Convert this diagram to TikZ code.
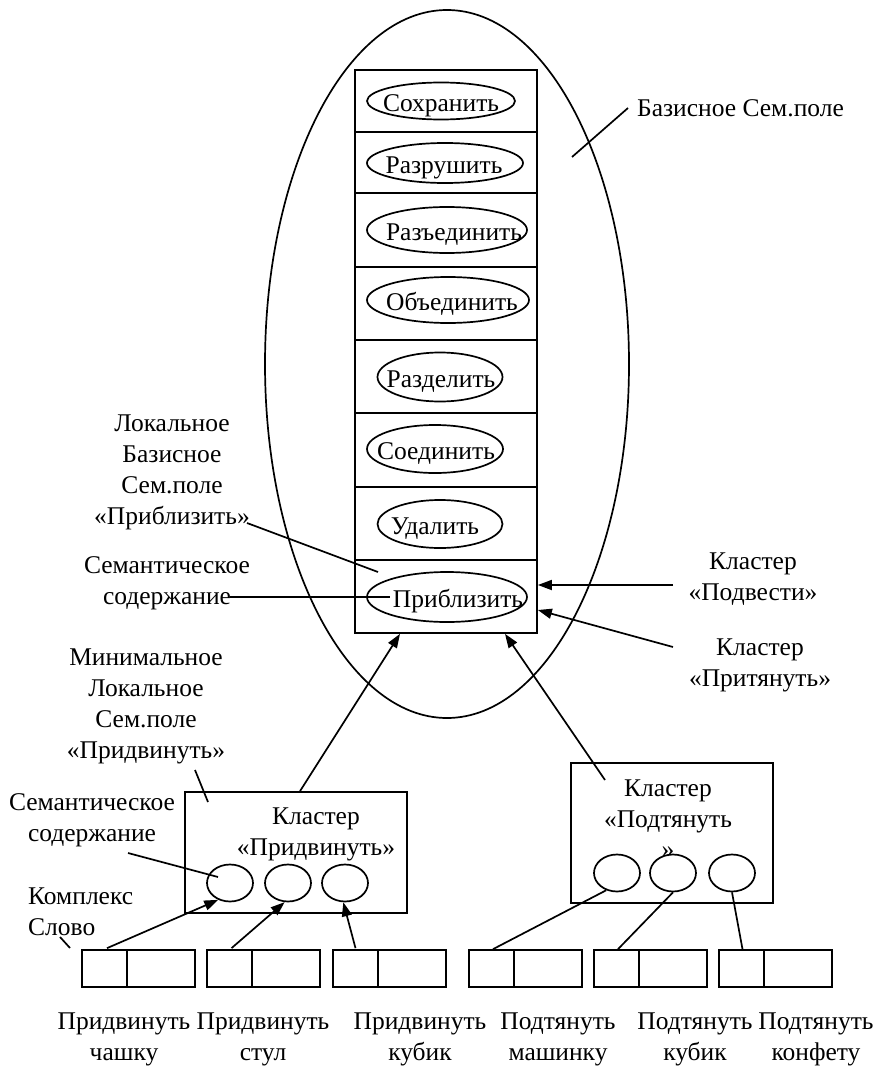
\documentclass[tikz,border=0pt]{standalone}
\usepackage{fontspec}
\setmainfont{Liberation Serif}
\usetikzlibrary{shapes.geometric,arrows.meta,calc}
\tikzset{
  lw/.style={line width=1.7pt},
  txt/.style={font=\fontsize{25.5}{31}\selectfont, inner sep=0pt, align=center},
  otxt/.style={txt, text height=21pt, text depth=0pt},
  rowbox/.style={draw, lw, rectangle, minimum width=182pt, inner sep=0pt},
  oval/.style={draw, lw, ellipse, inner sep=0pt},
  sm/.style={draw, lw, ellipse, inner sep=0pt, minimum width=46pt, minimum height=37pt},
  wsmall/.style={draw, lw, rectangle, inner sep=0pt, minimum width=45pt, minimum height=37pt},
  wbig/.style={draw, lw, rectangle, inner sep=0pt, minimum width=68pt, minimum height=37pt},
  conn/.style={lw},
  arr/.style={lw, -{Triangle[length=14pt,width=10pt]}}
}
\begin{document}
\begin{tikzpicture}[x=1pt,y=-1pt]
\useasboundingbox (0,0) rectangle (878,1070);
% big ellipse
\node[oval, minimum width=364pt, minimum height=708pt] (big) at (447,364) {};
% column rows
\node[rowbox, minimum height=62pt] (r1) at (446,101) {};
\node[rowbox, minimum height=61pt] (r2) at (446,162.5) {};
\node[rowbox, minimum height=74pt] (r3) at (446,230) {};
\node[rowbox, minimum height=73pt] (r4) at (446,303.5) {};
\node[rowbox, minimum height=73pt] (r5) at (446,376.5) {};
\node[rowbox, minimum height=74pt] (r6) at (446,450) {};
\node[rowbox, minimum height=73pt] (r7) at (446,523.5) {};
\node[rowbox, minimum height=73pt] (r8) at (446,596.5) {};
% ovals in rows
\node[oval, minimum width=148pt, minimum height=37pt] (e1) at (441,101) {};
\node[oval, minimum width=156pt, minimum height=40pt] (e2) at (445,163) {};
\node[oval, minimum width=160pt, minimum height=46pt] (e3) at (447,230) {};
\node[oval, minimum width=162pt, minimum height=46pt] (e4) at (448,300) {};
\node[oval, minimum width=125pt, minimum height=49pt] (e5) at (440,377) {};
\node[oval, minimum width=136pt, minimum height=48pt] (e6) at (435,449) {};
\node[oval, minimum width=125pt, minimum height=48pt] (e7) at (440,524) {};
\node[oval, minimum width=160pt, minimum height=50pt] (e8) at (447,597) {};
\node[otxt] (t1) at (441,101) {Сохранить};
\node[otxt] (t2) at (444,163) {Разрушить};
\node[otxt] (t3) at (454,230) {Разъединить};
\node[otxt] (t4) at (452,300) {Объединить};
\node[otxt] (t5) at (441,377) {Разделить};
\node[otxt] (t6) at (436,449) {Соединить};
\node[otxt] (t7) at (435,524) {Удалить};
\node[otxt] (t8) at (458,597) {Приблизить};
% labels
\node[txt, anchor=west] (bsp) at (637,108) {Базисное Сем.поле};
\node[txt] (lbsp) at (172,472) {Локальное\\Базисное\\Сем.поле\\«Приблизить»};
\node[txt] (sem1) at (167,583) {Семантическое\\содержание};
\node[txt] (mlsp) at (146,706) {Минимальное\\Локальное\\Сем.поле\\«Придвинуть»};
\node[txt] (sem2) at (92,820) {Семантическое\\содержание};
\node[txt, align=left, anchor=west] (ks) at (28,912) {Комплекс\\Слово};
\node[txt] (kpv) at (753,579) {Кластер\\«Подвести»};
\node[txt] (kpt) at (760,665) {Кластер\\«Притянуть»};
% cluster boxes
\node[draw, lw, rectangle, minimum width=222pt, minimum height=121pt, inner sep=0pt] (C1) at (296,852.5) {};
\node[txt] (C1t) at (316,834) {Кластер\\«Придвинуть»};
\node[draw, lw, rectangle, minimum width=202pt, minimum height=140pt, inner sep=0pt] (C2) at (672,833) {};
\node[txt] (C2t) at (668,806) {Кластер\\«Подтянуть};
\node[txt] (C2q) at (668,852) {»};
\node[sm] (a1) at (230,883) {};
\node[sm] (a2) at (288,883) {};
\node[sm] (a3) at (345,883) {};
\node[sm] (b1) at (617,873) {};
\node[sm] (b2) at (673,873) {};
\node[sm] (b3) at (732,873) {};
% word boxes
\foreach \n/\l in {1/82,2/207,3/333,4/469,5/594,6/719}{
  \node[wsmall] (w\n s) at (\l+22.5,968.5) {};
  \node[wbig] (w\n b) at (\l+79,968.5) {};
}
\node[txt] (n1) at (124,1039) {Придвинуть\\чашку};
\node[txt] (n2) at (263,1039) {Придвинуть\\стул};
\node[txt] (n3) at (420,1039) {Придвинуть\\кубик};
\node[txt] (n4) at (558,1039) {Подтянуть\\машинку};
\node[txt] (n5) at (695,1039) {Подтянуть\\кубик};
\node[txt] (n6) at (816,1039) {Подтянуть\\конфету};
% free-end coordinates
\coordinate (bspA) at (572,157);
\coordinate (bspB) at (628,108);
\coordinate (lbA) at (247,523);
\coordinate (lbB) at (378,572);
\coordinate (s1A) at (230,597);
\coordinate (s1B) at (390,597);
\coordinate (mlA) at (195,770);
\coordinate (mlB) at (208,802);
\coordinate (s2A) at (128,853);
\coordinate (s2B) at (218,877);
\coordinate (ksA) at (60,937);
\coordinate (ksB) at (70,948);
\coordinate (pv) at (673,585);
\coordinate (pt) at (673,647);
\coordinate (c2s) at (605,780);
% connectors
\draw[conn] (bspA) -- (bspB);
\draw[conn] (lbA) -- (lbB);
\draw[conn] (s1A) -- (s1B);
\draw[conn] (mlA) -- (mlB);
\draw[conn] (s2A) -- (s2B);
\draw[conn] (ksA) -- (ksB);
\draw[arr] (pv) -- ($(r8.east)+(0,-11.5)$);
\draw[arr] (pt) -- ($(r8.east)+(0,13.5)$);
\draw[arr] ($(C1.north)+(4,0)$) -- ($(r8.south)+(-46,0)$);
\draw[arr] (c2s) -- ($(r8.south)+(59,0)$);
\draw[arr] ($(w1s.north)+(2.5,-1)$) -- (a1.235);
\draw[arr] ($(w2s.north)+(2,-1)$) -- (a2.260);
\draw[arr] ($(w3s.north)+(0,-1)$) -- (a3.265);
\draw[conn] (b1.238) -- ($(w4s.north)+(1.5,0)$);
\draw[conn] (b2.south) -- ($(w5s.north)+(1.5,0)$);
\draw[conn] (b3.south) -- ($(w6s.north)+(1,0)$);
\end{tikzpicture}
\end{document}
